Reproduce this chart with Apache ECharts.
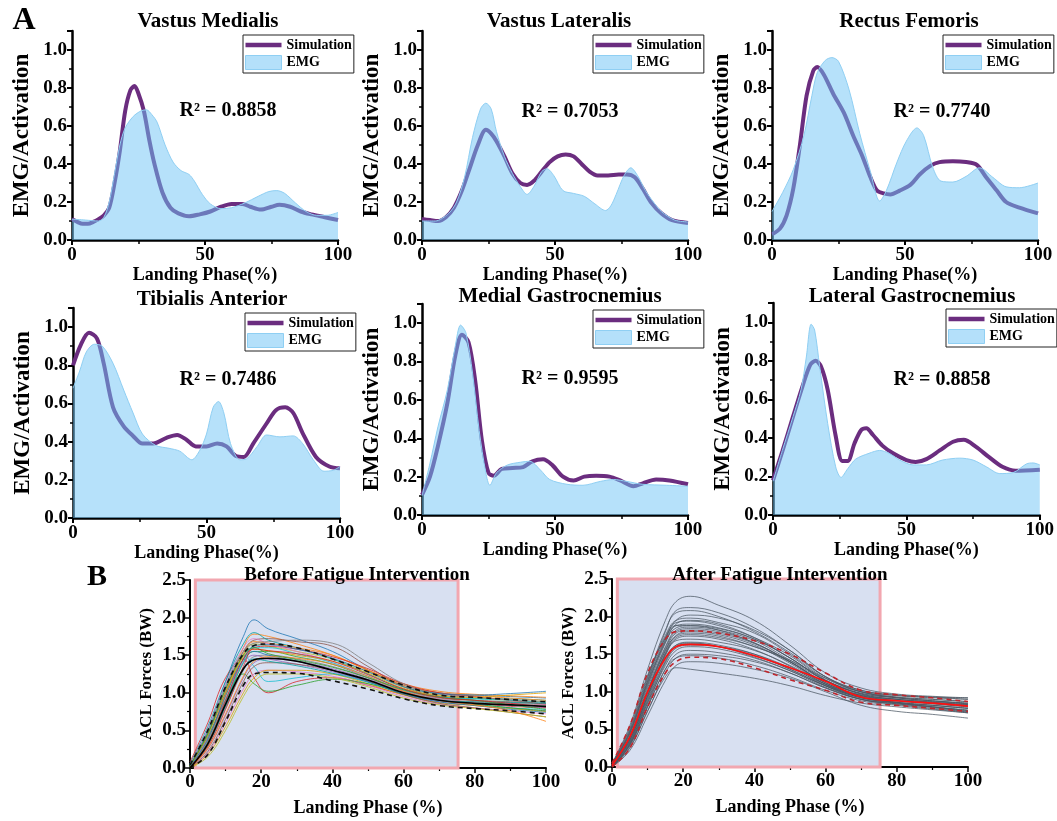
<!DOCTYPE html>
<html><head><meta charset="utf-8">
<script src="https://cdn.jsdelivr.net/npm/echarts@6/dist/echarts.min.js"></script>
<style>html,body{margin:0;padding:0;background:#fff}#c{width:1057px;height:821px}</style>
</head><body><div id="c"></div>
<script>
// ---------------- DATA ----------------
const muscleNames = ['Vastus Medialis','Vastus Lateralis','Rectus Femoris','Tibialis Anterior','Medial Gastrocnemius','Lateral Gastrocnemius'];
const r2Labels = ['R\u00B2 = 0.8858','R\u00B2 = 0.7053','R\u00B2 = 0.7740','R\u00B2 = 0.7486','R\u00B2 = 0.9595','R\u00B2 = 0.8858'];

const vmSim = [[0,0.11],[2,0.095],[4,0.085],[6,0.085],[8,0.095],[10,0.11],[12,0.13],[14,0.17],[16,0.3],[18,0.47],[20,0.68],[22,0.79],[23.5,0.81],[25,0.77],[27,0.68],[29,0.53],[31,0.4],[34,0.25],[37,0.17],[40,0.14],[44,0.125],[48,0.135],[52,0.15],[56,0.175],[60,0.19],[64,0.19],[67,0.175],[71,0.16],[75,0.175],[78,0.185],[82,0.175],[86,0.15],[90,0.135],[95,0.12],[100,0.105]];
const vmEmg = [[0,0.11],[5,0.105],[10,0.1],[12,0.12],[14,0.2],[16,0.35],[18,0.5],[20,0.59],[23,0.65],[26,0.68],[28,0.685],[30,0.66],[32,0.62],[35,0.5],[38,0.41],[41,0.365],[44,0.345],[46,0.31],[49,0.24],[52,0.19],[56,0.165],[60,0.17],[65,0.195],[70,0.23],[74,0.255],[77,0.26],[80,0.245],[84,0.195],[88,0.15],[92,0.13],[96,0.13],[100,0.145]];
const vlSim = [[0,0.11],[3,0.105],[6,0.1],[9,0.12],[12,0.17],[15,0.26],[18,0.38],[21,0.5],[24,0.58],[26,0.56],[28,0.52],[31,0.44],[34,0.35],[37,0.3],[39.5,0.29],[42,0.31],[45,0.36],[48,0.41],[51,0.44],[54,0.45],[57,0.44],[60,0.4],[63,0.36],[66,0.34],[70,0.34],[74,0.345],[77,0.345],[80,0.33],[83,0.27],[86,0.2],[90,0.14],[94,0.105],[100,0.09]];
const vlEmg = [[0,0.1],[5,0.1],[10,0.14],[13,0.2],[16,0.33],[19,0.54],[22,0.69],[24,0.72],[26,0.69],[28,0.57],[31,0.44],[34,0.35],[37,0.28],[39.5,0.24],[42,0.28],[45,0.36],[47,0.375],[49.5,0.34],[53,0.26],[57,0.245],[61,0.23],[65,0.19],[69,0.155],[71,0.18],[73,0.24],[76,0.34],[78.5,0.38],[81,0.34],[84,0.26],[87,0.2],[90,0.15],[95,0.105],[100,0.095]];
const rfSim = [[0,0.03],[3,0.06],[5.5,0.13],[8,0.27],[10.5,0.5],[13,0.76],[15.5,0.89],[17,0.91],[19.5,0.87],[23,0.77],[27,0.67],[30.5,0.55],[34,0.44],[37,0.33],[39.5,0.26],[42,0.245],[44.5,0.24],[48,0.26],[52,0.29],[55.5,0.345],[59.5,0.39],[63,0.41],[68,0.415],[73,0.41],[77,0.395],[80.5,0.33],[84.5,0.26],[88,0.2],[93,0.17],[100,0.14]];
const rfEmg = [[0,0.15],[4,0.25],[8,0.37],[12,0.55],[15,0.76],[17,0.88],[20,0.945],[22.5,0.96],[25,0.94],[29,0.79],[33,0.56],[37,0.36],[40.5,0.205],[43,0.26],[47,0.41],[50.5,0.52],[54.5,0.59],[57,0.55],[60.5,0.38],[63.5,0.31],[68,0.305],[73,0.335],[78,0.38],[83,0.33],[88,0.28],[93,0.275],[100,0.3]];
const taSim = [[0,0.8],[3,0.91],[6,0.97],[9,0.94],[11.5,0.81],[15,0.58],[19,0.48],[22.5,0.43],[26,0.39],[30,0.39],[35,0.42],[39,0.435],[42.5,0.41],[46,0.375],[50,0.375],[54,0.39],[57.5,0.375],[61,0.325],[64,0.32],[67.5,0.39],[72.5,0.495],[76,0.565],[79.5,0.58],[82.5,0.55],[86,0.445],[91,0.32],[96,0.27],[100,0.26]];
const taEmg = [[0,0.68],[2.5,0.77],[5,0.87],[8,0.91],[11,0.9],[15,0.81],[19,0.67],[22.5,0.55],[26,0.44],[31,0.38],[36,0.365],[40,0.35],[44.5,0.305],[47.5,0.355],[50,0.44],[52.5,0.58],[54.5,0.61],[56.5,0.55],[59,0.39],[62.5,0.305],[65,0.31],[69,0.375],[72.5,0.435],[77.5,0.425],[82.5,0.43],[86,0.39],[90,0.305],[94,0.245],[97.5,0.25],[100,0.27]];
const mgSim = [[0,0.105],[3,0.2],[6,0.36],[9.5,0.58],[12.5,0.83],[15,0.94],[17.5,0.9],[20,0.7],[22.5,0.39],[25,0.22],[27,0.205],[30,0.24],[34,0.245],[38,0.25],[41.5,0.28],[45.5,0.29],[49,0.26],[53,0.2],[57,0.18],[61,0.2],[65.5,0.205],[70.5,0.2],[74.5,0.18],[79.5,0.15],[83,0.165],[88,0.185],[93,0.18],[100,0.16]];
const mgEmg = [[0,0.1],[3,0.27],[6,0.46],[9.5,0.65],[12.5,0.88],[14.5,0.99],[16.5,0.95],[19,0.74],[21.5,0.44],[24,0.22],[25.5,0.155],[28,0.22],[32,0.26],[37,0.275],[40.5,0.28],[44.5,0.235],[48,0.185],[54.5,0.16],[60.5,0.155],[67,0.175],[72,0.185],[77,0.175],[83,0.16],[92,0.155],[100,0.15]];
const lgSim = [[0,0.18],[3.5,0.33],[7.5,0.51],[11,0.665],[14,0.78],[16,0.8],[18,0.77],[20.5,0.65],[23.5,0.41],[26,0.28],[28,0.28],[30.5,0.37],[33,0.44],[35,0.45],[37.5,0.415],[41,0.36],[45,0.32],[50,0.285],[53.5,0.275],[57.5,0.29],[62.5,0.335],[67.5,0.38],[71.5,0.39],[76,0.355],[81,0.3],[86,0.25],[91,0.23],[100,0.235]];
const lgEmg = [[0,0.175],[3.5,0.335],[7.5,0.51],[10.5,0.65],[12.5,0.82],[14.3,0.99],[15.6,0.96],[17.5,0.77],[20.5,0.475],[23.5,0.25],[25.5,0.195],[28,0.24],[31,0.29],[36,0.32],[40,0.335],[43.5,0.32],[47.5,0.285],[52.5,0.26],[57.5,0.26],[63.5,0.285],[70,0.295],[75,0.285],[80,0.25],[85,0.215],[90,0.22],[95,0.265],[97.5,0.27],[100,0.26]];
const simData = [vmSim, vlSim, rfSim, taSim, mgSim, lgSim];
const emgData = [vmEmg, vlEmg, rfEmg, taEmg, mgEmg, lgEmg];

// Panel B
const panelBTitles = ['Before Fatigue Intervention','After Fatigue Intervention'];
const phaseX = [0,5,10,15,18,22,30,40,50,60,70,80,90,100];
const beforeMean  = [0.0,0.32,0.85,1.32,1.44,1.46,1.42,1.3,1.17,1.0,0.9,0.86,0.84,0.82];
const beforeUpper = [0.04,0.5,1.08,1.52,1.63,1.65,1.6,1.45,1.28,1.1,0.97,0.94,0.91,0.88];
const beforeLower = [0.0,0.18,0.62,1.1,1.25,1.27,1.26,1.16,1.05,0.92,0.83,0.79,0.76,0.72];
const afterMean   = [0.02,0.4,1.0,1.45,1.6,1.63,1.6,1.48,1.32,1.14,0.93,0.88,0.85,0.81];
const afterUpper  = [0.05,0.55,1.25,1.7,1.8,1.81,1.78,1.68,1.5,1.25,1.02,0.96,0.92,0.87];
const afterLower  = [0.0,0.25,0.8,1.25,1.4,1.46,1.44,1.32,1.16,1.02,0.86,0.82,0.78,0.74];
const beforeTrials = [
 [0.05,0.5,1.15,1.75,1.97,1.85,1.72,1.55,1.3,1.1,1.0,0.97,0.95,0.93],
 [0.02,0.4,1.0,1.6,1.78,1.75,1.65,1.5,1.3,1.12,1.02,0.98,0.96,0.94],
 [0.0,0.3,0.85,1.4,1.55,1.55,1.48,1.38,1.2,1.02,0.92,0.88,0.86,0.84],
 [0.08,0.6,1.2,1.45,1.2,1.0,1.15,1.2,1.1,0.98,0.9,0.86,0.82,0.8],
 [0.0,0.25,0.7,1.2,1.4,1.45,1.42,1.32,1.18,1.0,0.88,0.84,0.8,0.76],
 [0.03,0.45,1.05,1.55,1.7,1.72,1.68,1.62,1.35,1.08,0.95,0.9,0.88,0.85],
 [0.0,0.2,0.6,1.05,1.25,1.3,1.28,1.22,1.1,0.95,0.85,0.8,0.76,0.72],
 [0.05,0.5,1.1,1.5,1.35,1.15,1.2,1.25,1.15,1.0,0.9,0.85,0.8,0.78],
 [0.02,0.35,0.95,1.5,1.65,1.62,1.55,1.45,1.28,1.08,0.97,0.93,0.9,0.88],
 [0.0,0.3,0.8,1.3,1.48,1.5,1.45,1.35,1.2,1.03,0.93,0.9,0.88,0.86],
 [0.06,0.55,1.15,1.65,1.8,1.7,1.6,1.45,1.25,1.05,0.95,0.92,0.92,0.9],
 [0.0,0.18,0.55,1.0,1.2,1.3,1.3,1.25,1.12,0.97,0.87,0.83,0.79,0.75],
 [0.04,0.45,1.0,1.45,1.55,1.5,1.42,1.3,1.15,0.98,0.88,0.83,0.78,0.74],
 [0.01,0.38,0.98,1.52,1.68,1.66,1.6,1.5,1.3,1.1,1.0,0.96,0.93,0.9],
 [0.03,0.42,0.9,1.25,1.12,1.02,1.1,1.18,1.12,1.0,0.9,0.85,0.8,0.76],
 [0.0,0.28,0.78,1.35,1.6,1.62,1.58,1.48,1.32,1.12,1.0,0.95,0.9,0.85],
 [0.02,0.4,0.92,1.4,1.5,1.45,1.38,1.28,1.15,1.0,0.9,0.86,0.83,0.8],
 [0.0,0.22,0.65,1.15,1.35,1.4,1.38,1.3,1.16,0.98,0.86,0.8,0.74,0.68],
 [0.05,0.52,1.12,1.6,1.72,1.65,1.55,1.4,1.2,1.02,0.92,0.88,0.86,0.84],
 [0.02,0.36,0.88,1.42,1.6,1.6,1.52,1.4,1.22,1.04,0.95,0.92,0.9,0.87],
 [0.0,0.15,0.5,0.95,1.15,1.25,1.25,1.2,1.08,0.93,0.84,0.79,0.74,0.68],
 [0.04,0.48,1.08,1.55,1.66,1.68,1.7,1.66,1.4,1.12,0.98,0.94,0.91,0.88],
 [0.01,0.32,0.82,1.32,1.45,1.42,1.36,1.26,1.14,0.99,0.9,0.88,0.87,0.86],
 [0.03,0.44,1.02,1.48,1.58,1.56,1.5,1.42,1.26,1.06,0.96,0.94,0.97,1.0],
 [0.02,0.38,0.96,1.45,1.62,1.64,1.58,1.46,1.28,1.08,0.99,0.97,0.99,1.02],
 [0.0,0.26,0.72,1.22,1.42,1.48,1.46,1.38,1.22,1.02,0.9,0.84,0.76,0.62],
 [0.03,0.46,1.05,1.5,1.6,1.52,1.44,1.34,1.2,1.04,0.94,0.9,0.84,0.78],
 [0.01,0.34,0.9,1.45,1.58,1.56,1.52,1.42,1.24,1.05,0.94,0.9,0.86,0.81]
];
const afterTrials = [
 [0.05,0.55,1.3,1.95,2.2,2.27,2.15,1.95,1.62,1.25,1.05,0.97,0.94,0.92],
 [0.03,0.45,1.15,1.8,2.08,2.12,2.05,1.85,1.55,1.2,1.02,0.95,0.92,0.9],
 [0.02,0.4,1.05,1.65,1.9,1.95,1.9,1.72,1.45,1.15,0.98,0.92,0.88,0.85],
 [0.0,0.3,0.85,1.35,1.55,1.6,1.57,1.45,1.28,1.08,0.92,0.86,0.82,0.78],
 [0.0,0.25,0.75,1.2,1.32,1.3,1.25,1.18,1.08,0.95,0.85,0.8,0.76,0.72],
 [0.04,0.5,1.2,1.75,1.95,1.98,1.92,1.78,1.5,1.18,1.0,0.93,0.9,0.87],
 [0.01,0.35,0.95,1.5,1.72,1.76,1.72,1.6,1.4,1.12,0.95,0.88,0.84,0.8],
 [0.0,0.28,0.8,1.3,1.45,1.48,1.45,1.35,1.2,1.02,0.88,0.82,0.77,0.72],
 [0.02,0.42,1.08,1.68,1.88,1.9,1.85,1.7,1.45,1.15,0.97,0.9,0.86,0.83],
 [0.03,0.48,1.18,1.82,2.05,2.08,2.0,1.8,1.52,1.2,1.02,0.96,0.93,0.9],
 [0.0,0.32,0.9,1.45,1.62,1.65,1.6,1.48,1.3,1.08,0.92,0.85,0.8,0.75],
 [0.01,0.38,1.0,1.58,1.8,1.84,1.8,1.65,1.4,1.12,0.95,0.88,0.84,0.8],
 [0.0,0.22,0.68,1.15,1.35,1.4,1.38,1.3,1.18,1.0,0.82,0.74,0.7,0.65],
 [0.02,0.4,1.02,1.6,1.82,1.86,1.82,1.68,1.42,1.15,1.0,0.95,0.93,0.92],
 [0.04,0.52,1.22,1.72,1.88,1.88,1.82,1.65,1.4,1.1,0.93,0.86,0.82,0.78],
 [0.0,0.3,0.82,1.38,1.58,1.62,1.6,1.5,1.32,1.1,0.95,0.9,0.86,0.83],
 [0.02,0.36,0.95,1.52,1.75,1.8,1.76,1.62,1.38,1.1,0.94,0.88,0.85,0.82],
 [0.01,0.34,0.92,1.48,1.68,1.7,1.66,1.55,1.35,1.1,0.93,0.86,0.8,0.74],
 [0.03,0.46,1.12,1.7,1.95,2.02,1.98,1.82,1.55,1.2,1.0,0.93,0.9,0.87],
 [0.0,0.26,0.74,1.25,1.45,1.5,1.48,1.4,1.25,1.05,0.9,0.84,0.8,0.76],
 [0.02,0.38,0.98,1.55,1.78,1.82,1.78,1.64,1.4,1.12,0.96,0.9,0.87,0.84],
 [0.01,0.33,0.88,1.42,1.62,1.66,1.62,1.5,1.3,1.08,0.92,0.86,0.82,0.78],
 [0.03,0.44,1.1,1.66,1.85,1.88,1.84,1.7,1.45,1.15,0.98,0.92,0.88,0.84],
 [0.0,0.29,0.8,1.3,1.5,1.55,1.52,1.42,1.25,1.05,0.9,0.85,0.8,0.75],
 [0.02,0.4,1.0,1.55,1.74,1.78,1.74,1.6,1.42,1.18,1.0,0.92,0.88,0.85],
 [0.01,0.36,0.94,1.5,1.7,1.74,1.7,1.56,1.34,1.08,0.9,0.84,0.79,0.73],
 [0.03,0.47,1.14,1.72,1.92,1.94,1.88,1.72,1.48,1.16,0.97,0.9,0.86,0.82],
 [0.0,0.31,0.86,1.4,1.6,1.64,1.6,1.46,1.28,1.06,0.9,0.83,0.78,0.73]
];
const shadeRange = [[1.5, 0], [75.3, 2.5]];

// ---------------- LAYOUT / STYLE ----------------
const FONT = "'Liberation Serif','Times New Roman',serif";
const gridsA = [
  {left:72, top:31, width:266, height:209},
  {left:422, top:31, width:266, height:209},
  {left:772, top:31, width:266, height:209},
  {left:73, top:308, width:267, height:210},
  {left:422, top:304, width:266, height:211},
  {left:773, top:303, width:268, height:212}
];
const gridsB = [
  {left:190, top:580, width:356, height:188},
  {left:612, top:579, width:356, height:188}
];
const titlePosA = [[208,22],[559,22],[909,22],[212,300],[560,297],[912,297]];
const r2Pos = [[228,111],[570,112],[942,112],[228,380],[570,379],[942,380]];
const legendPos = [[243,35],[593,35],[943,35],[245,313],[593,310],[946,309]];
const titlePosB = [[357,575],[780,575]];
const SIM_COLOR = '#6b2d7f';
const EMG_FILL = 'rgba(110,195,245,0.5)';
const EMG_EDGE = '#8fcff3';
const trialColors = ['#1f77b4','#ff7f0e','#2ca02c','#d62728','#9467bd','#8c564b','#e377c2','#17becf','#bcbd22','#7f7f7f','#00a0a0','#e0a000'];

const txt = (size) => ({fontFamily: FONT, fontWeight: 'bold', fontSize: size, color: '#000'});

const grid = [], xAxis = [], yAxis = [], series = [], legend = [], graphic = [];

gridsA.forEach((g, i) => {
  grid.push(Object.assign({}, g));
  xAxis.push({
    type:'value', gridIndex:i, min:0, max:100, interval:50,
    axisLine:{lineStyle:{color:'#000', width:2.5}},
    axisTick:{length:5, lineStyle:{color:'#000', width:2}},
    minorTick:{show:true, splitNumber:2, length:4, lineStyle:{color:'#000', width:1.5}},
    splitLine:{show:false}, minorSplitLine:{show:false},
    axisLabel:Object.assign(txt(19), {margin:6}),
    name:'Landing Phase(%)', nameLocation:'middle', nameGap:25, nameTextStyle:txt(18)
  });
  yAxis.push({
    type:'value', gridIndex:i, min:0, max:1.1, interval:0.2,
    axisLine:{show:true, lineStyle:{color:'#000', width:2.5}},
    axisTick:{show:true, length:5, lineStyle:{color:'#000', width:2}},
    minorTick:{show:true, splitNumber:2, length:3, lineStyle:{color:'#000', width:1.5}},
    splitLine:{show:false},
    axisLabel:Object.assign(txt(19), {margin:5, formatter:v => v > 1.05 ? '' : v.toFixed(1)}),
    name:'EMG/Activation', nameLocation:'middle', nameGap:38, nameTextStyle:txt(23)
  });
  series.push({
    type:'line', name:'Simulation', xAxisIndex:i, yAxisIndex:i, data:simData[i],
    smooth:0.3, symbol:'none', lineStyle:{color:SIM_COLOR, width:4}, z:3, silent:true
  });
  series.push({
    type:'line', name:'EMG', xAxisIndex:i, yAxisIndex:i, data:emgData[i],
    smooth:0.3, symbol:'none', lineStyle:{color:EMG_EDGE, width:1},
    areaStyle:{color:EMG_FILL, opacity:1}, z:4, silent:true
  });
  legend.push({
    left:legendPos[i][0], top:legendPos[i][1], orient:'vertical', selectedMode:false,
    backgroundColor:'#fff', borderColor:'#222', borderWidth:1, borderRadius:0,
    padding:[3,2,3,2], itemGap:3, itemWidth:36, itemHeight:14,
    textStyle:txt(14),
    data:[
      {name:'Simulation', icon:'path://M0,0L40,0L40,5L0,5Z', itemStyle:{color:SIM_COLOR}},
      {name:'EMG', icon:'rect', itemStyle:{color:'#b4e0fa', borderColor:EMG_EDGE, borderWidth:1}}
    ]
  });
  graphic.push({type:'text', x:titlePosA[i][0], y:titlePosA[i][1],
    style:{text:muscleNames[i], textAlign:'center', textVerticalAlign:'middle', font:'bold 21px ' + FONT, fill:'#000'}});
  graphic.push({type:'text', x:r2Pos[i][0], y:r2Pos[i][1],
    style:{text:r2Labels[i], textAlign:'center', textVerticalAlign:'middle', font:'bold 20px ' + FONT, fill:'#000'}});
});

const toPairs = arr => phaseX.map((x, k) => [x, arr[k]]);
const bSets = [
  {trials:beforeTrials, mean:beforeMean, upper:beforeUpper, lower:beforeLower, trialColor:null, meanColor:'#000', sdColor:'#111'},
  {trials:afterTrials, mean:afterMean, upper:afterUpper, lower:afterLower, trialColor:'#4b5763', meanColor:'#ff1010', sdColor:'#c0262d'}
];
gridsB.forEach((g, j) => {
  const gi = 6 + j;
  grid.push(Object.assign({}, g));
  xAxis.push({
    type:'value', gridIndex:gi, min:0, max:100, interval:20,
    axisLine:{lineStyle:{color:'#000', width:2}},
    axisTick:{length:5, lineStyle:{color:'#000', width:1.5}},
    minorTick:{show:true, splitNumber:2, length:3, lineStyle:{color:'#000', width:1.2}},
    splitLine:{show:false},
    axisLabel:Object.assign(txt(19), {margin:5}),
    name:'Landing Phase (%)', nameLocation:'middle', nameGap:31, nameTextStyle:txt(18)
  });
  yAxis.push({
    type:'value', gridIndex:gi, min:0, max:2.5, interval:0.5,
    axisLine:{show:true, lineStyle:{color:'#000', width:2}},
    axisTick:{show:true, length:5, lineStyle:{color:'#000', width:1.5}},
    minorTick:{show:true, splitNumber:2, length:3, lineStyle:{color:'#000', width:1.2}},
    splitLine:{show:false},
    axisLabel:Object.assign(txt(19), {margin:4, formatter:v => v.toFixed(1)}),
    name:'ACL Forces (BW)', nameLocation:'middle', nameGap:35, nameTextStyle:txt(17)
  });
  const s = bSets[j];
  series.push({
    type:'line', name:'shade' + j, xAxisIndex:gi, yAxisIndex:gi, data:[], z:1, silent:true,
    markArea:{silent:true, itemStyle:{color:'#d8e0f1', borderColor:'#f2a7b0', borderWidth:3},
      data:[[{xAxis:shadeRange[0][0], yAxis:shadeRange[0][1]}, {xAxis:shadeRange[1][0], yAxis:shadeRange[1][1]}]]}
  });
  s.trials.forEach((t, k) => {
    series.push({
      type:'line', name:'trial' + j + '-' + k, xAxisIndex:gi, yAxisIndex:gi, data:toPairs(t),
      smooth:0.4, symbol:'none', silent:true, z:2,
      lineStyle:{color: s.trialColor || trialColors[k % trialColors.length], width:1, opacity: s.trialColor ? 0.75 : 0.8}
    });
  });
  [['upper', s.upper], ['lower', s.lower]].forEach(([nm, arr]) => {
    series.push({type:'line', name:nm + j, xAxisIndex:gi, yAxisIndex:gi, data:toPairs(arr),
      smooth:0.4, symbol:'none', silent:true, z:3, lineStyle:{color:s.sdColor, width:1.6, type:[5,4]}});
  });
  series.push({type:'line', name:'mean' + j, xAxisIndex:gi, yAxisIndex:gi, data:toPairs(s.mean),
    smooth:0.4, symbol:'none', silent:true, z:3, lineStyle:{color:s.meanColor, width:1.6}});
  graphic.push({type:'text', x:titlePosB[j][0], y:titlePosB[j][1], z:100,
    style:{text:panelBTitles[j], textAlign:'center', textVerticalAlign:'middle', font:'bold 19px ' + FONT, fill:'#000'}});
});

graphic.push({type:'text', x:24, y:21, style:{text:'A', textAlign:'center', textVerticalAlign:'middle', font:'bold 32px ' + FONT, fill:'#000'}});
graphic.push({type:'text', x:97, y:577, style:{text:'B', textAlign:'center', textVerticalAlign:'middle', font:'bold 30px ' + FONT, fill:'#000'}});

const chart = echarts.init(document.getElementById('c'), null, {renderer:'canvas'});
chart.setOption({animation:false, backgroundColor:'#fff', grid, xAxis, yAxis, series, legend, graphic});
</script>
</body></html>
